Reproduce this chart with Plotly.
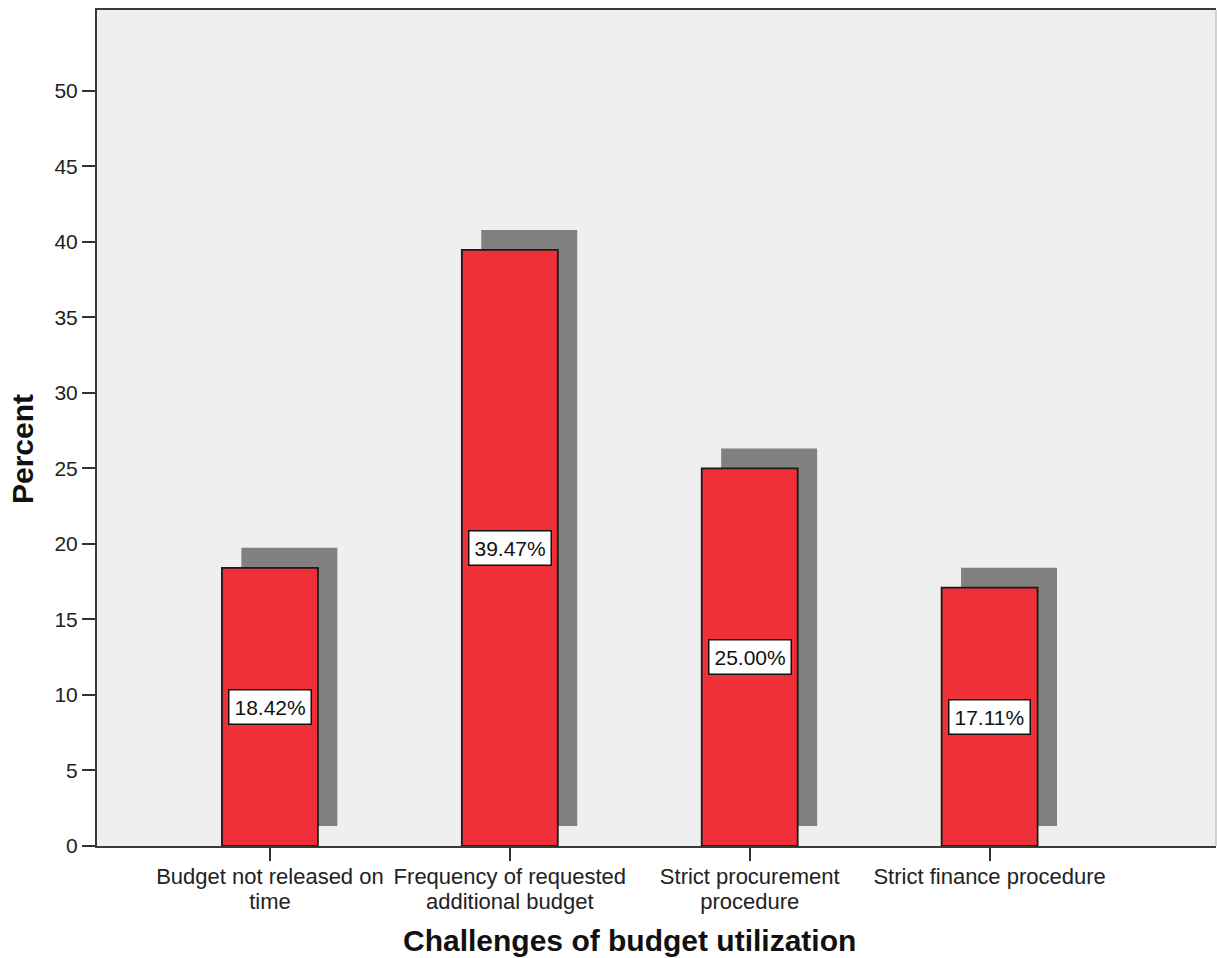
import plotly.graph_objects as go

# Challenges of budget utilization (percent of respondents)
categories = [
    ["Budget not released on", "time"],
    ["Frequency of requested", "additional budget"],
    ["Strict procurement", "procedure"],
    ["Strict finance procedure"],
]
percent = [18.42, 39.47, 25.00, 17.11]
y_ticks = [0, 5, 10, 15, 20, 25, 30, 35, 40, 45, 50]

positions = list(range(len(categories)))

# drop-shadow geometry (in axis units)
SHADOW_DX = 0.081
SHADOW_LIFT = 1.32
BAR_WIDTH = 0.4

BAR_RED = "#EF3039"
SHADOW_GRAY = "#808080"
PLOT_BG = "#EFEFEF"
FONT = "Liberation Sans, Arial, sans-serif"

# category labels: large glyphs on a fairly tight line pitch
TICK_GLYPH_PX = 22
tick_text = [
    "<br>".join(f"<span style='font-size:{TICK_GLYPH_PX}px'>{line}</span>" for line in lines)
    for lines in categories
]

fig = go.Figure()

# shadow behind each bar
fig.add_trace(go.Bar(
    x=[p + SHADOW_DX for p in positions],
    y=percent,
    base=SHADOW_LIFT,
    width=BAR_WIDTH,
    marker=dict(color=SHADOW_GRAY, line=dict(width=0)),
    hoverinfo="skip",
    showlegend=False,
))

# main bars
fig.add_trace(go.Bar(
    x=positions,
    y=percent,
    width=BAR_WIDTH,
    marker=dict(color=BAR_RED, line=dict(color="#1a1a1a", width=1.8)),
    showlegend=False,
))

# value labels in white boxes at the bar midpoints
for p, v in zip(positions, percent):
    fig.add_annotation(
        x=p, y=v / 2, xref="x", yref="y",
        text=f"{v:.2f}%",
        showarrow=False,
        font=dict(family=FONT, size=21, color="#111111"),
        bgcolor="white", bordercolor="#111111", borderwidth=1.5, borderpad=5,
    )

# axis titles
fig.add_annotation(
    x=1.5, xref="x", y=-0.113, yref="paper",
    text="<b>Challenges of budget utilization</b>",
    showarrow=False, yanchor="middle",
    font=dict(family=FONT, size=30, color="#111111"),
)
fig.add_annotation(
    x=-0.067, xref="paper", y=0.5 - 21 / 836, yref="paper",
    text="<b>Percent</b>", textangle=-90,
    showarrow=False, xanchor="center",
    font=dict(family=FONT, size=30, color="#111111"),
)

# light right edge of the frame
fig.add_shape(type="line", xref="paper", yref="paper",
              x0=1, x1=1, y0=0, y1=1,
              line=dict(color="#c4c4c4", width=1.5))

fig.update_layout(
    width=1217, height=958,
    margin=dict(l=97, r=1, t=10, b=112),
    paper_bgcolor="white",
    plot_bgcolor=PLOT_BG,
    barmode="overlay",
    font=dict(family=FONT, size=20, color="#222222"),
)

fig.update_xaxes(
    range=[-0.7208, 3.9437],
    tickvals=positions, ticktext=tick_text, tickangle=0,
    ticks="outside", ticklen=13, tickwidth=1.5, tickcolor="#333333",
    showline=True, linecolor="#3a3a3a", linewidth=2, mirror=True,
    showgrid=False, zeroline=False,
    tickfont=dict(family=FONT, size=19, color="#222222"),
)
fig.update_yaxes(
    range=[0, 55.35],
    tickvals=y_ticks,
    ticks="outside", ticklen=13, tickwidth=1.5, tickcolor="#333333",
    showline=True, linecolor="#3a3a3a", linewidth=2,
    showgrid=False, zeroline=False,
    tickfont=dict(family=FONT, size=21, color="#222222"),
)

fig.write_html("out.html")
